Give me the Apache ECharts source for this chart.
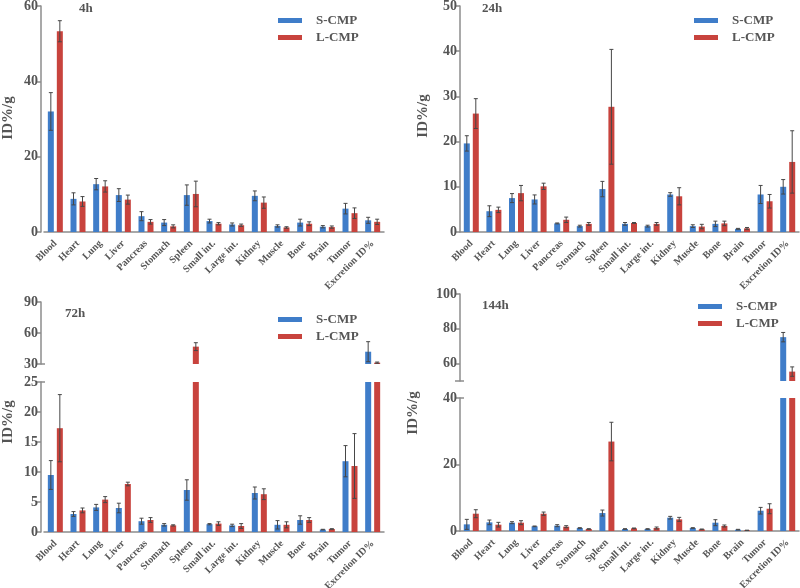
<!DOCTYPE html>
<html><head><meta charset="utf-8">
<script src="https://cdn.jsdelivr.net/npm/echarts@6/dist/echarts.min.js"></script>
<style>html,body{margin:0;padding:0;background:#fff}#c{width:800px;height:588px}</style>
</head><body><div id="c"></div>
<script>
const categories = ['Blood','Heart','Lung','Liver','Pancreas','Stomach','Spleen','Small int.','Large int.','Kidney','Muscle','Bone','Brain','Tumor','Excretion ID%'];
const seriesNames = ['S-CMP','L-CMP'];
const panelTitles = ['4h','24h','72h','144h'];

// 4h
const s4   = [32.0, 8.8, 12.7, 9.8, 4.2, 2.5, 9.8, 2.9, 2.0, 9.6, 1.6, 2.5, 1.4, 6.2, 3.1];
const s4e  = [5.0, 1.6, 1.5, 1.7, 1.2, 0.8, 2.7, 0.5, 0.4, 1.3, 0.3, 0.9, 0.3, 1.4, 0.8];
const l4   = [53.3, 8.1, 12.1, 8.6, 2.7, 1.5, 10.1, 2.2, 1.8, 7.8, 1.2, 2.2, 1.3, 5.0, 2.7];
const l4e  = [2.8, 1.3, 1.5, 1.2, 0.6, 0.4, 3.4, 0.3, 0.3, 1.5, 0.2, 0.5, 0.3, 1.4, 0.7];
// 24h
const s24  = [19.6, 4.6, 7.5, 7.2, 1.9, 1.3, 9.5, 1.8, 1.3, 8.3, 1.3, 1.8, 0.7, 8.3, 10.0];
const s24e = [1.7, 1.2, 1.0, 1.0, 0.1, 0.2, 1.7, 0.3, 0.2, 0.4, 0.3, 0.6, 0.1, 2.0, 1.6];
const l24  = [26.2, 4.9, 8.6, 10.1, 2.7, 1.8, 27.7, 2.0, 1.8, 7.9, 1.2, 1.9, 0.8, 6.8, 15.5];
const l24e = [3.3, 0.6, 1.7, 0.7, 0.6, 0.3, 12.7, 0.1, 0.3, 1.9, 0.5, 0.5, 0.2, 1.5, 6.9];
// 72h
const s72  = [9.5, 3.0, 4.1, 4.0, 1.8, 1.2, 7.0, 1.3, 1.1, 6.5, 1.2, 2.0, 0.4, 11.8, 41.9];
const s72e = [2.4, 0.4, 0.5, 0.8, 0.5, 0.2, 1.7, 0.1, 0.2, 1.0, 0.7, 0.7, 0.05, 2.6, 9.7];
const l72  = [17.3, 3.6, 5.4, 8.0, 2.0, 1.1, 46.8, 1.4, 1.0, 6.3, 1.2, 2.0, 0.5, 11.0, 31.3];
const l72e = [5.6, 0.4, 0.5, 0.3, 0.4, 0.1, 3.8, 0.3, 0.4, 0.9, 0.5, 0.4, 0.05, 5.4, 0.6];
// 144h
const s144  = [2.0, 2.6, 2.5, 1.4, 1.6, 0.9, 5.4, 0.6, 0.6, 4.0, 0.9, 2.5, 0.4, 6.1, 75.2];
const s144e = [1.5, 0.7, 0.3, 0.1, 0.3, 0.1, 0.9, 0.1, 0.1, 0.4, 0.1, 0.9, 0.1, 1.0, 2.7];
const l144  = [5.2, 1.9, 2.5, 5.2, 1.3, 0.6, 26.9, 0.8, 0.9, 3.5, 0.5, 1.5, 0.2, 6.7, 55.4];
const l144e = [1.2, 0.7, 0.6, 0.5, 0.3, 0.1, 5.8, 0.1, 0.3, 0.6, 0.1, 0.3, 0.05, 1.5, 2.7];

// y axis ranges per grid
const axis4    = {min:0, max:60, interval:20};
const axis24   = {min:0, max:50, interval:10};
const axis72lo = {min:0, max:25, interval:5};
const axis72hi = {min:30, max:90, interval:30};
const axis144lo= {min:0, max:40, interval:20};
const axis144hi= {min:50, max:100, interval:10, ticks:[50,60,80,100], labels:[60,80,100]};

const BLUE = '#3f7dc9', RED = '#c8433d', AX = '#8c8c8c', TXT = '#555555', ERR = '#474747';
const FONT = '"Liberation Serif", "Times New Roman", serif';

const grids = [
  {left:44, top:6, width:340, height:226},
  {left:460, top:6, width:339, height:226},
  {left:44, top:382, width:340, height:150},
  {left:44, top:302, width:340, height:62},
  {left:460, top:398, width:339, height:133},
  {left:460, top:294, width:339, height:87}
].map(g => Object.assign(g, {outerBoundsMode:'none', containLabel:false}));
const yOffsets = [3, 0, 3, 3, 0, 0];
const gridDefs = [
  {axis:axis4, S:s4, Se:s4e, L:l4, Le:l4e, xShow:true},
  {axis:axis24, S:s24, Se:s24e, L:l24, Le:l24e, xShow:true},
  {axis:axis72lo, S:s72, Se:s72e, L:l72, Le:l72e, xShow:true},
  {axis:axis72hi, S:s72, Se:s72e, L:l72, Le:l72e, xShow:false},
  {axis:axis144lo, S:s144, Se:s144e, L:l144, Le:l144e, xShow:true},
  {axis:axis144hi, S:s144, Se:s144e, L:l144, Le:l144e, xShow:false}
];

function errRender(offset, lo, hi) {
  return function (params, api) {
    const i = api.value(0), v = api.value(1), e = api.value(2);
    if (v > hi || v < lo) return null;
    const t = api.coord([i, Math.min(v + e, hi)]);
    const b = api.coord([i, Math.max(v - e, lo)]);
    const x = t[0] + offset;
    const st = {stroke: ERR, lineWidth: 1};
    return {type:'group', children:[
      {type:'line', shape:{x1:x, y1:t[1], x2:x, y2:b[1]}, style:st},
      {type:'line', shape:{x1:x-2, y1:t[1], x2:x+2, y2:t[1]}, style:st},
      {type:'line', shape:{x1:x-2, y1:b[1], x2:x+2, y2:b[1]}, style:st}
    ]};
  };
}

const xAxes = [], yAxes = [], series = [];
gridDefs.forEach((d, g) => {
  xAxes.push({
    type:'category', gridIndex:g, data:categories, show:d.xShow,
    axisLine:{lineStyle:{color:AX, width:1.5}}, axisTick:{show:false},
    axisLabel:{interval:0, rotate:45, fontSize:10, fontWeight:'bold', color:TXT, fontFamily:FONT, margin:10, hideOverlap:false}
  });
  const a = d.axis;
  const y = {
    type:'value', gridIndex:g, min:a.min, max:a.max, interval:a.interval, offset:yOffsets[g],
    splitLine:{show:false},
    axisLine:{show:true, lineStyle:{color:AX, width:1.5}},
    axisTick:{show:true, length:5, lineStyle:{color:AX, width:1.5}},
    axisLabel:{fontSize:14, fontWeight:'bold', color:TXT, fontFamily:FONT, margin:3}
  };
  if (a.ticks) { y.axisTick.customValues = a.ticks; y.axisLabel.customValues = a.labels; }
  yAxes.push(y);
  const lo = a.min, hi = a.max;
  const filt = arr => arr.map(v => (v >= lo ? v : '-'));
  series.push({name:seriesNames[0], type:'bar', xAxisIndex:g, yAxisIndex:g, data:filt(d.S), barWidth:6, barGap:'50%', clip:true, itemStyle:{color:BLUE}});
  series.push({name:seriesNames[1], type:'bar', xAxisIndex:g, yAxisIndex:g, data:filt(d.L), barWidth:6, barGap:'50%', clip:true, itemStyle:{color:RED}});
  series.push({type:'custom', xAxisIndex:g, yAxisIndex:g, z:5, clip:true, encode:{x:0, y:1},
    data:d.S.map((v, i) => [i, v, d.Se[i]]), renderItem:errRender(-4.5, lo, hi)});
  series.push({type:'custom', xAxisIndex:g, yAxisIndex:g, z:5, clip:true, encode:{x:0, y:1},
    data:d.L.map((v, i) => [i, v, d.Le[i]]), renderItem:errRender(4.5, lo, hi)});
});

const legendPos = [{left:273, top:9}, {left:689, top:9}, {left:273, top:308}, {left:693, top:295}];
const legends = legendPos.map(p => ({
  left:p.left, top:p.top, orient:'vertical', data:seriesNames, icon:'rect',
  itemWidth:24, itemHeight:5, itemGap:4, selectedMode:false,
  textStyle:{fontSize:13, fontWeight:'bold', color:TXT, fontFamily:FONT, padding:[0,0,0,9]}
}));

const titlePos = [{left:79, top:2}, {left:482, top:2}, {left:65, top:307}, {left:482, top:299}];
const titles = titlePos.map((p, i) => ({
  text:panelTitles[i], left:p.left, top:p.top, padding:0,
  textStyle:{fontSize:13, fontWeight:'bold', color:TXT, fontFamily:FONT}
}));

const chart = echarts.init(document.getElementById('c'), null, {renderer:'canvas'});
chart.setOption({
  animation:false, backgroundColor:'#fff',
  title:titles, legend:legends, grid:grids, xAxis:xAxes, yAxis:yAxes, series:series
});

// y-axis names and axis-break end marks
const namePos = [[8, 118], [423, 116], [8, 422], [413, 413]];
const graphics = namePos.map((p, i) => ({
  type:'text', id:'yname' + i, x:p[0], y:p[1], rotation:Math.PI / 2,
  style:{text:'ID%/g', font:'bold 15px ' + FONT, fill:TXT, align:'center', verticalAlign:'middle'}
}));
[[2, axis72lo.max], [3, axis72hi.min], [4, axis144lo.max], [5, axis144hi.min]].forEach(([g, v]) => {
  const yy = chart.convertToPixel({yAxisIndex:g}, v);
  const xx = grids[g].left - yOffsets[g];
  graphics.push({type:'line', id:'brk' + g, shape:{x1:xx, y1:yy, x2:xx + 4, y2:yy}, style:{stroke:AX, lineWidth:1.5}});
});
chart.setOption({graphic:graphics});
</script>
</body></html>
